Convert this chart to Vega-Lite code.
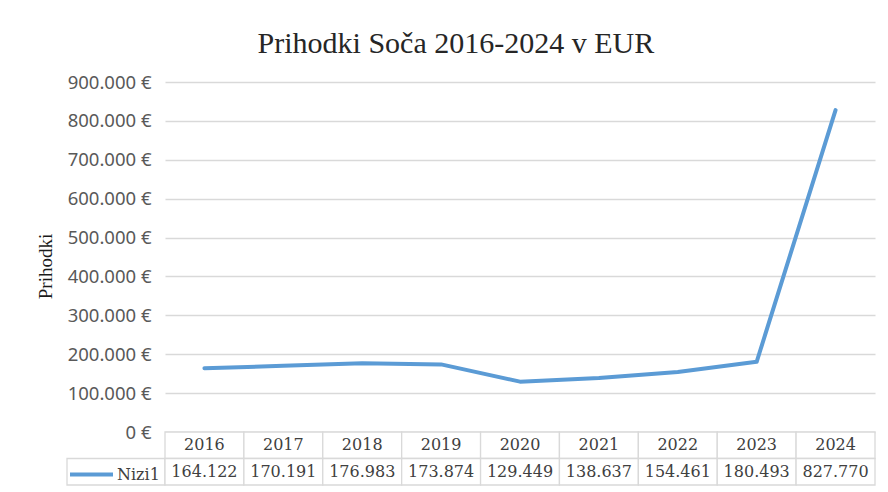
{
  "$schema": "https://vega.github.io/schema/vega-lite/v6.json",
  "background": "white",
  "padding": {"left": 36, "top": 29, "right": 5, "bottom": 5},
  "title": {"text": "Prihodki Soča 2016-2024 v EUR", "font": "Liberation Serif", "fontSize": 30, "fontWeight": "normal", "color": "#262626", "anchor": "middle", "offset": 14, "dx": 0},
  "data": {"values": [
    {"leto": "2016", "prihodki": 164122, "serija": "Nizi1"},
    {"leto": "2017", "prihodki": 170191, "serija": "Nizi1"},
    {"leto": "2018", "prihodki": 176983, "serija": "Nizi1"},
    {"leto": "2019", "prihodki": 173874, "serija": "Nizi1"},
    {"leto": "2020", "prihodki": 129449, "serija": "Nizi1"},
    {"leto": "2021", "prihodki": 138637, "serija": "Nizi1"},
    {"leto": "2022", "prihodki": 154461, "serija": "Nizi1"},
    {"leto": "2023", "prihodki": 180493, "serija": "Nizi1"},
    {"leto": "2024", "prihodki": 827770, "serija": "Nizi1"}
  ]},
  "columns": 2,
  "spacing": 0,
  "bounds": "flush",
  "resolve": {"scale": {"color": "independent"}, "legend": {"color": "independent"}},
  "concat": [
    {
      "width": 98, "height": 350,
      "mark": {"type": "point", "opacity": 0},
      "encoding": {}
    },
    {
      "width": 710, "height": 350,
      "mark": {"type": "line", "strokeWidth": 4, "strokeCap": "round", "strokeJoin": "round"},
      "encoding": {
        "x": {"field": "leto", "type": "ordinal", "scale": {"type": "band", "paddingInner": 0, "paddingOuter": 0}, "axis": null},
        "y": {"field": "prihodki", "type": "quantitative",
          "scale": {"domain": [0, 900000], "nice": false},
          "axis": {"values": [0, 100000, 200000, 300000, 400000, 500000, 600000, 700000, 800000, 900000],
            "format": "$,.0f", "title": "Prihodki",
            "labelFont": "Noto Sans", "labelFontSize": 18.5, "labelColor": "#595959", "labelPadding": 14,
            "domain": false, "ticks": false, "gridColor": "#d9d9d9", "gridWidth": 1.3,
            "titleFont": "Liberation Serif", "titleFontSize": 19, "titleFontWeight": "normal", "titleColor": "#1a1a1a", "titlePadding": 12, "titleY": 184}},
        "color": {"field": "serija", "type": "nominal", "scale": {"range": ["#5b9bd5"]},
          "legend": {"orient": "none", "legendX": -97, "legendY": 369, "title": null, "symbolType": "stroke", "symbolSize": 1849, "symbolStrokeWidth": 4,
            "labelFont": "DejaVu Serif", "labelFontSize": 16, "labelColor": "#404040", "labelOffset": 2}}
      }
    },
    {
      "width": 98, "height": 53,
      "data": {"values": [{"serija": "Nizi1"}]},
      "mark": {"type": "rect", "fill": "transparent", "stroke": "#d9d9d9", "strokeWidth": 1.3},
      "encoding": {
        "y": {"datum": "Nizi1", "type": "nominal", "scale": {"type": "band", "domain": ["Leto", "Nizi1"], "paddingInner": 0, "paddingOuter": 0}, "axis": null}
      }
    },
    {
      "width": 710, "height": 53,
      "encoding": {
        "x": {"field": "leto", "type": "ordinal", "scale": {"type": "band", "paddingInner": 0, "paddingOuter": 0}, "axis": null}
      },
      "layer": [
        {"mark": {"type": "rect", "fill": "white", "stroke": "#d9d9d9", "strokeWidth": 1.3},
         "encoding": {"y": {"datum": "Leto", "type": "nominal", "scale": {"type": "band", "domain": ["Leto", "Nizi1"], "paddingInner": 0, "paddingOuter": 0}, "axis": null}}},
        {"mark": {"type": "rect", "fill": "white", "stroke": "#d9d9d9", "strokeWidth": 1.3},
         "encoding": {"y": {"datum": "Nizi1", "type": "nominal", "scale": {"type": "band"}, "axis": null}}},
        {"mark": {"type": "text", "font": "DejaVu Serif", "fontSize": 16, "color": "#404040"},
         "encoding": {"y": {"datum": "Leto", "type": "nominal", "scale": {"type": "band"}, "axis": null}, "text": {"field": "leto", "type": "nominal"}}},
        {"mark": {"type": "text", "font": "DejaVu Serif", "fontSize": 16, "color": "#404040"},
         "encoding": {"y": {"datum": "Nizi1", "type": "nominal", "scale": {"type": "band"}, "axis": null}, "text": {"field": "prihodki", "type": "quantitative", "format": ",.0f"}}}
      ]
    }
  ],
  "config": {
    "view": {"stroke": null},
    "locale": {"number": {"decimal": ",", "thousands": ".", "grouping": [3], "currency": ["", " €"]}}
  }
}
